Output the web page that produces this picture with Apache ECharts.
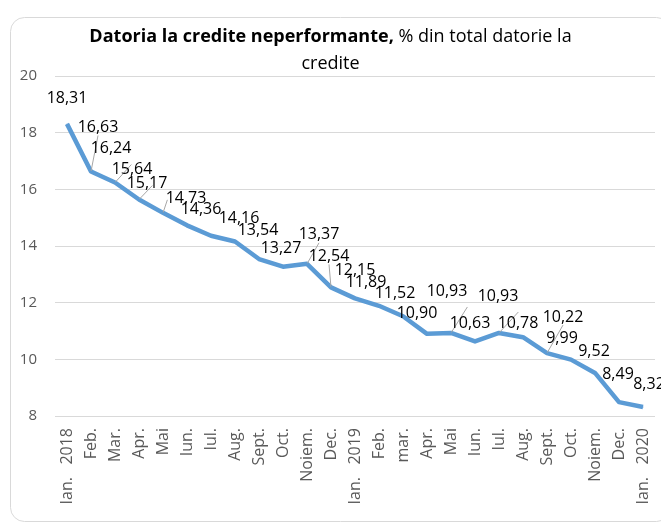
<!DOCTYPE html>
<html>
<head>
<meta charset="utf-8">
<script src="https://cdn.jsdelivr.net/npm/echarts@6/dist/echarts.min.js"></script>
<style>
  html, body { margin: 0; padding: 0; background: #fff; }
  #chart { width: 661px; height: 525px; }
</style>
</head>
<body>
<div id="chart"></div>
<script>
const months = [
  "Ian.   2018", "Feb.", "Mar.", "Apr.", "Mai", "Iun.", "Iul.", "Aug.", "Sept.", "Oct.", "Noiem.", "Dec.",
  "Ian.   2019", "Feb.", "mar.", "Apr.", "Mai", "Iun.", "Iul.", "Aug.", "Sept.", "Oct.", "Noiem.", "Dec.",
  "Ian.   2020"
];
const npl = [
  18.31, 16.63, 16.24, 15.64, 15.17, 14.73, 14.36, 14.16, 13.54, 13.27, 13.37, 12.54,
  12.15, 11.89, 11.52, 10.90, 10.93, 10.63, 10.93, 10.78, 10.22, 9.99, 9.52, 8.49,
  8.32
];
const yTicks = [8, 10, 12, 14, 16, 18, 20];

// where each value label sits relative to its point, like the Excel original
const labelOffsets = [
  [0, -25], [7, -44], [-4, -34], [-7, -30], [-16, -29], [-1, -27], [-10, -26], [4, -23],
  [-1, -29], [-2, -18], [12, -29], [-2, -31], [0, -28], [-13, -23], [-8, -23], [-10, -20],
  [-4, -42], [-5, -18], [-1, -37], [-5, -14], [16, -36], [-9, -21], [-1, -21], [-1, -28],
  [6, -22]
];
const withLeader = [1, 2, 3, 4, 10, 11, 16, 18, 20];

const chart = echarts.init(document.getElementById("chart"));

const fmt = (v) => v.toFixed(2).replace(".", ",");

chart.setOption({
  animation: false,
  textStyle: { fontFamily: "Open Sans" },
  graphic: [
    {
      type: "rect",
      shape: { x: 10.5, y: 17.5, width: 660, height: 504, r: 14 },
      style: { fill: "none", stroke: "#d9d9d9", lineWidth: 1 },
      silent: true
    }
  ],
  title: {
    left: "center",
    top: 18,
    text: "{b|Datoria la credite neperformante,} {n|% din total datorie la}\n{n|credite}",
    textStyle: {
      fontWeight: "normal",
      rich: {
        b: { fontFamily: "Open Sans", fontWeight: "bold", fontSize: 18, color: "#000", lineHeight: 27 },
        n: { fontFamily: "Open Sans", fontWeight: "normal", fontSize: 18, color: "#000", lineHeight: 27 }
      }
    }
  },
  grid: { left: 55, right: 6, top: 76, bottom: 109 },
  xAxis: {
    type: "category",
    data: months,
    boundaryGap: true,
    axisLine: { show: false },
    axisTick: { show: false },
    axisLabel: {
      rotate: 90,
      margin: 12,
      interval: 0,
      color: "#595959",
      fontSize: 16,
      fontFamily: "Open Sans"
    }
  },
  yAxis: {
    type: "value",
    min: yTicks[0],
    max: yTicks[yTicks.length - 1],
    interval: 2,
    axisLabel: { color: "#595959", fontSize: 15, margin: 18, fontFamily: "Open Sans" },
    splitLine: { lineStyle: { color: "#d9d9d9", width: 1 } }
  },
  series: [
    {
      type: "line",
      data: npl.map((v, i) => ({
        value: v,
        label: { offset: labelOffsets[i] },
        labelLine: { show: withLeader.includes(i) }
      })),
      symbol: "circle",
      symbolSize: 1,
      showSymbol: true,
      itemStyle: { color: "#5b9bd5" },
      lineStyle: { color: "#5b9bd5", width: 4.5, join: "round" },
      label: {
        show: true,
        position: "inside",
        color: "#000",
        fontSize: 16,
        fontFamily: "Open Sans",
        formatter: (p) => fmt(p.value)
      },
      labelLine: {
        lineStyle: { color: "#a6a6a6", width: 1 }
      }
    }
  ]
});
</script>
</body>
</html>
